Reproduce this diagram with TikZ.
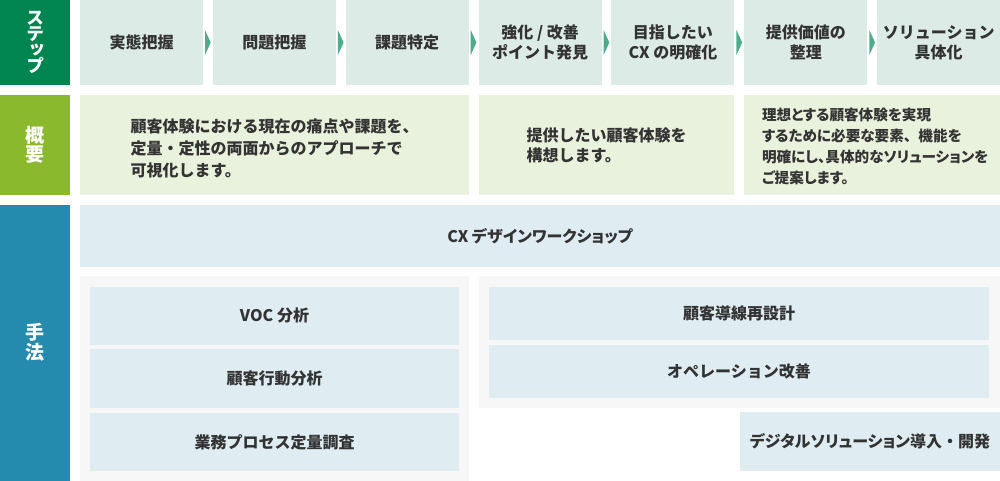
\documentclass[tikz,border=0pt]{standalone}
\usepackage{fontspec}
\setmainfont{Noto Sans CJK JP}
\newfontfamily\jpv{Noto Sans CJK JP}[RawFeature=+vert]
\newfontfamily\jpp{Noto Sans CJK JP}[RawFeature=+palt]
\newcommand{\fw}[1]{{\rmfamily\bfseries #1}}
\usetikzlibrary{calc}
\definecolor{stepgreen}{HTML}{008550}
\definecolor{sumgreen}{HTML}{8AB92D}
\definecolor{methblue}{HTML}{248AAE}
\definecolor{stepbg}{HTML}{DCEBE5}
\definecolor{sumbg}{HTML}{E9F2DC}
\definecolor{methbg}{HTML}{DFEDF2}
\definecolor{grpbg}{HTML}{F7F7F7}
\definecolor{arrowc}{HTML}{4AAE88}
\definecolor{txt}{HTML}{333333}
\begin{document}
\begin{tikzpicture}[x=1pt,y=-1pt,
  base/.style={inner sep=0pt, outer sep=0pt, draw=none, align=center},
  label/.style={base, fill=#1, minimum width=70, text=white, font=\bfseries},
  stepbox/.style={base, fill=stepbg, minimum width=123, minimum height=85, text=txt, font=\bfseries\fontsize{16}{20}\selectfont},
  sumbox/.style={base, fill=sumbg, minimum height=100},
  sumtext/.style={base, align=left, text=txt, font=\bfseries\fontsize{16}{#1}\selectfont},
  methbox/.style={base, fill=methbg, text=txt, font=\bfseries\fontsize{16}{20}\selectfont},
  grpbox/.style={base, fill=grpbg},
  chev/.style={fill=arrowc, draw=none}
]
\useasboundingbox (0,0) rectangle (1000,481);
% left labels
\node[label=stepgreen, minimum height=85] (Lstep) at (35,42.5) {};
\node[base, text=white, font=\jpv\bfseries\fontsize{18}{16.2}\selectfont] (Lsteptxt) at (35,42.3) {ス\\テ\\ッ\\プ};
\node[label=sumgreen, minimum height=100] (Lsum) at (35,145) {};
\node[base, text=white, font=\bfseries\fontsize{19}{19}\selectfont] (Lsumtxt) at (35,144.5) {概\\要};
\node[label=methblue, minimum height=276] (Lmeth) at (35,343) {};
\node[base, text=white, font=\bfseries\fontsize{19}{20}\selectfont] (Lmethtxt) at (35,342) {手\\法};
% steps
\node[stepbox] (s1) at (141.5,42.5) {実態把握};
\node[stepbox] (s2) at (274.36,42.5) {問題把握};
\node[stepbox] (s3) at (407.22,42.5) {課題特定};
\node[stepbox] (s4) at (540.08,42.5) {強化 / 改善\\ポイント発見};
\node[stepbox] (s5) at (672.94,42.5) {目指したい\\CX の明確化};
\node[stepbox] (s6) at (805.8,42.5) {提供価値の\\整理};
\node[stepbox] (s7) at (938.66,42.5) {ソリューション\\具体化};
\foreach \a in {s1,s2,s3,s4,s5,s6}{
  \fill[chev] ($(\a.east)+(2,-12.5)$) -- ($(\a.east)+(7.7,0)$) -- ($(\a.east)+(2,12.5)$) -- cycle;
}
% summary
\node[sumbox, minimum width=389] (o1) at (274.5,145) {};
\node[sumtext=22] (o1t) at (274.5,148.7) {顧客体験における現在の痛点や課題を、\\定量・定性の両面からのアプローチで\\可視化します。};
\node[sumbox, minimum width=255] (o2) at (606.5,145) {};
\node[sumtext=20] (o2t) at (606.5,145.5) {提供したい顧客体験を\\構想します。};
\node[sumbox, minimum width=256] (o3) at (872,145) {};
\node[base, align=left, anchor=west, text=txt, font=\jpp\bfseries\fontsize{14.6}{21}\selectfont] (o3t) at (762,146) {理想とする顧客体験を実現\\するために必要な要素\fw{、}機能を\\明確にし、具体的なソリューションを\\ご提案します。};
% methods
\node[methbox, minimum width=920, minimum height=62, font=\jpp\bfseries\fontsize{16}{20}\selectfont] (cx) at (540,236) {CX デザインワークショップ};
\node[grpbox, minimum width=389, minimum height=205] (gl) at (274.5,378.5) {};
\node[methbox, minimum width=369, minimum height=58.3] (m1) at (274.5,315.9) {VOC 分析};
\node[methbox, minimum width=369, minimum height=58.3] (m2) at (274.5,378.4) {顧客行動分析};
\node[methbox, minimum width=369, minimum height=58.3] (m3) at (274.5,441.9) {業務プロセス定量調査};
\node[grpbox, minimum width=521, minimum height=132] (gr) at (739.5,342) {};
\node[methbox, minimum width=500, minimum height=53.3] (m4) at (739,313.4) {顧客導線再設計};
\node[methbox, minimum width=500, minimum height=53] (m5) at (739,371.2) {オペレーション改善};
\node[methbox, minimum width=260, minimum height=58.4, font=\jpp\bfseries\fontsize{16}{20}\selectfont] (m6) at (870,441.5) {デジタルソリューション導入\fw{・}開発};
\end{tikzpicture}
\end{document}
